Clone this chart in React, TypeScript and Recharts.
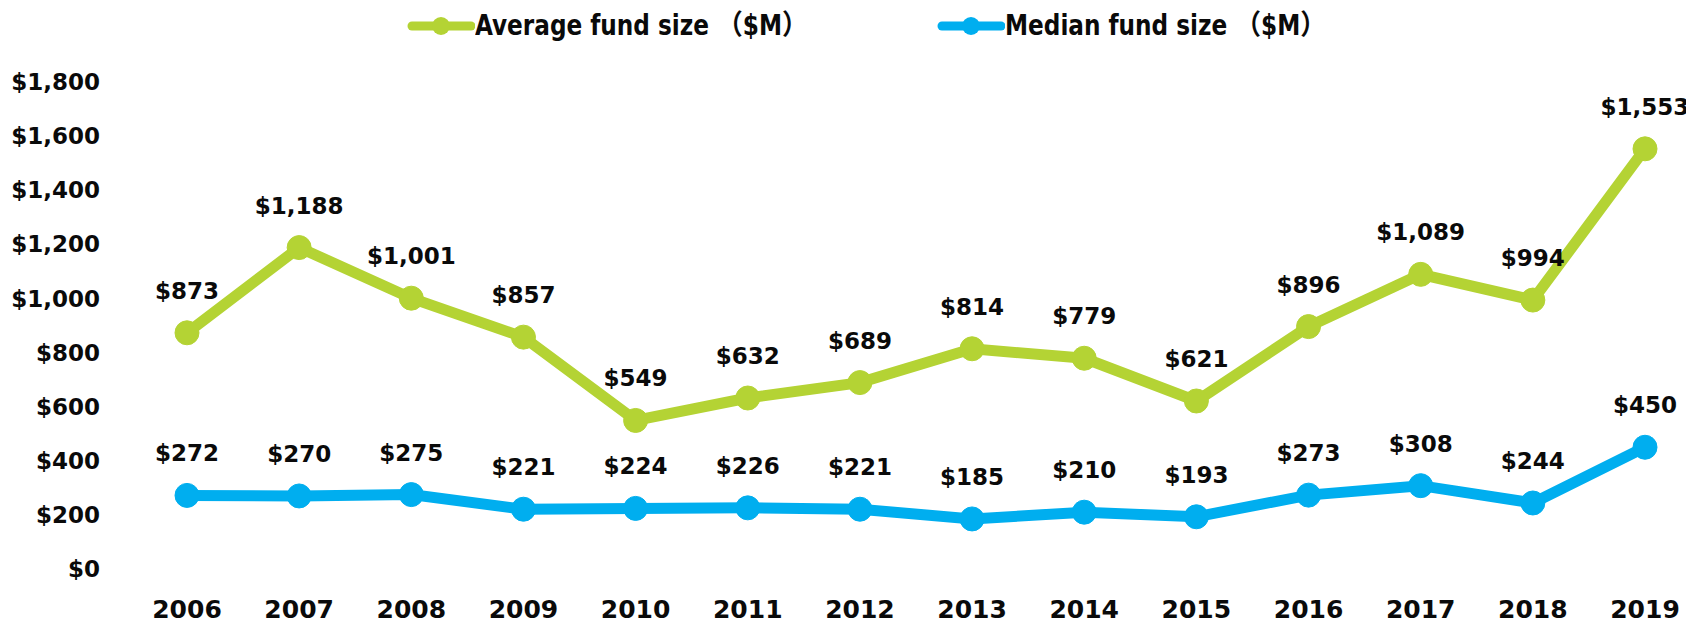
import React from 'react';
import { LineChart, Line, XAxis, YAxis, Legend, LabelList } from 'recharts';

const years = ['2006', '2007', '2008', '2009', '2010', '2011', '2012', '2013', '2014', '2015', '2016', '2017', '2018', '2019'];
const averageFundSize = [873, 1188, 1001, 857, 549, 632, 689, 814, 779, 621, 896, 1089, 994, 1553];
const medianFundSize = [272, 270, 275, 221, 224, 226, 221, 185, 210, 193, 273, 308, 244, 450];
const yTicks = [0, 200, 400, 600, 800, 1000, 1200, 1400, 1600, 1800];
const seriesNames = ['Average fund size （$M）', 'Median fund size （$M）'];

const GREEN = '#B4D334';
const BLUE = '#00AEEF';
const FONT = "'DejaVu Sans', sans-serif";
const LEGEND_FONT = "'Liberation Sans Narrow', 'DejaVu Sans Condensed', 'DejaVu Sans', 'Noto Sans CJK SC', sans-serif";

const data = years.map((year, i) => ({
  year,
  average: averageFundSize[i],
  median: medianFundSize[i],
}));

const fmt = (v: number) => `$${v.toLocaleString('en-US')}`;

const renderLabel = (props: any) => {
  const { x, y, value } = props;
  return (
    <text
      x={x}
      y={y - 42}
      textAnchor="middle"
      dominantBaseline="central"
      fontFamily={FONT}
      fontWeight="bold"
      fontSize={23}
      fill="#0a0a0a"
    >
      {fmt(value)}
    </text>
  );
};

const LegendIcon = ({ color }: { color: string }) => (
  <svg width={68} height={24} style={{ display: 'block' }}>
    <line x1={5} y1={12} x2={64} y2={12} stroke={color} strokeWidth={9} strokeLinecap="round" />
    <circle cx={34} cy={12} r={9} fill={color} />
  </svg>
);

const renderLegend = () => {
  const items = [
    { name: seriesNames[0], color: GREEN, left: 399 },
    { name: seriesNames[1], color: BLUE, left: 929 },
  ];
  return (
    <div style={{ position: 'relative', width: 1686, height: 40 }}>
      {items.map((it) => (
        <div
          key={it.name}
          style={{
            position: 'absolute',
            left: it.left,
            top: 0,
            height: 36,
            display: 'flex',
            alignItems: 'center',
            whiteSpace: 'nowrap',
          }}
        >
          <LegendIcon color={it.color} />
          <span
            style={{
              display: 'inline-block',
              fontFamily: LEGEND_FONT,
              fontWeight: 'bold',
              fontSize: 28,
              color: '#0a0a0a',
              lineHeight: '36px',
              transform: 'scaleX(0.92)',
              transformOrigin: 'left center',
            }}
          >
            {it.name}
          </span>
        </div>
      ))}
    </div>
  );
};

export default function App() {
  return (
    <LineChart
      width={1686}
      height={615}
      data={data}
      margin={{ top: 34, right: 20, bottom: 0, left: 0 }}
    >
      <Legend
        verticalAlign="top"
        content={renderLegend}
        wrapperStyle={{ top: 0, left: 0, width: 1686, height: 40 }}
      />
      <XAxis
        dataKey="year"
        axisLine={false}
        tickLine={false}
        height={54}
        tickMargin={25}
        padding={{ left: 79, right: 29 }}
        tick={{ fontFamily: FONT, fontWeight: 'bold', fontSize: 25, fill: '#0a0a0a' }}
        interval={0}
      />
      <YAxis
        width={100}
        domain={[0, 1800]}
        ticks={yTicks}
        axisLine={false}
        tickLine={false}
        tickFormatter={fmt}
        tick={{ fontFamily: FONT, fontWeight: 'bold', fontSize: 23, fill: '#0a0a0a' }}
        interval={0}
      />
      <Line
        type="linear"
        dataKey="average"
        name={seriesNames[0]}
        stroke={GREEN}
        strokeWidth={11}
        dot={{ r: 12, fill: GREEN, stroke: GREEN, strokeWidth: 1 }}
        activeDot={false}
        isAnimationActive={false}
      >
        <LabelList dataKey="average" content={renderLabel} />
      </Line>
      <Line
        type="linear"
        dataKey="median"
        name={seriesNames[1]}
        stroke={BLUE}
        strokeWidth={11}
        dot={{ r: 12, fill: BLUE, stroke: BLUE, strokeWidth: 1 }}
        activeDot={false}
        isAnimationActive={false}
      >
        <LabelList dataKey="median" content={renderLabel} />
      </Line>
    </LineChart>
  );
}
